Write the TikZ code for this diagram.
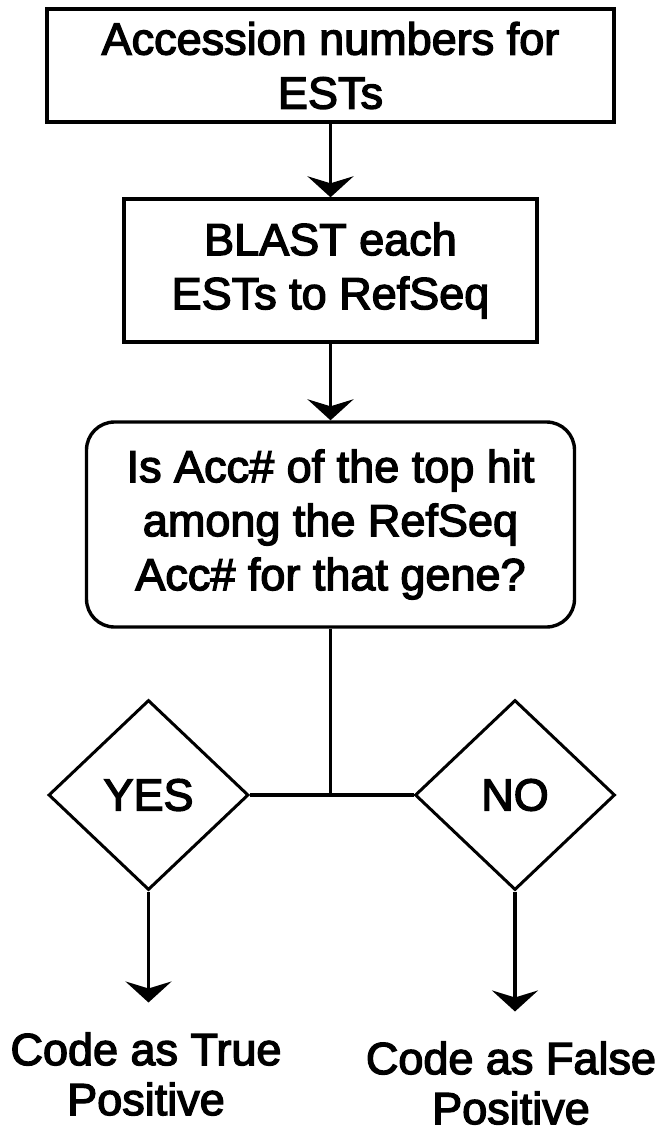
\documentclass[tikz,border=0pt]{standalone}
\usepackage{fontspec}
\newfontfamily\diafont[FakeBold=3]{Liberation Sans}
\usetikzlibrary{shapes.geometric,arrows.meta}
\begin{document}
\begin{tikzpicture}[x=1pt,y=-1pt,
  every node/.style={font=\diafont\fontsize{45}{54}\selectfont, align=center, inner sep=0pt},
  boxnode/.style={draw, line width=3.4pt, rectangle},
  qnode/.style={draw, line width=3.4pt, rounded corners=28pt, rectangle},
  dnode/.style={draw, line width=3pt, diamond, minimum width=200pt, minimum height=190pt},
  conn/.style={line width=3.4pt},
  arr/.style={line width=3.4pt, -{Stealth[length=21pt,width=46pt,inset=7pt]}},
  lbl/.style={font=\diafont\fontsize{45}{50}\selectfont, outer ysep=30pt}
]
\useasboundingbox (0,0) rectangle (658,1135);
\node[boxnode, minimum width=567pt, minimum height=113pt] (b1) at (330.5,65.5) {Accession numbers for\\ESTs};
\node[boxnode, minimum width=413pt, minimum height=143pt] (b2) at (330.5,270.5) {BLAST each\\ESTs to RefSeq};
\node[qnode, minimum width=488pt, minimum height=205pt] (q) at (330.5,524.5) {Is Acc\# of the top hit\\among the RefSeq\\Acc\# for that gene?};
\node[dnode] (yes) at (148.5,795) {YES};
\node[dnode] (no) at (515,795) {NO};
\node[lbl] (tp) at (146,1074) {Code as True\\Positive};
\node[lbl] (fp) at (511,1083) {Code as False\\Positive};
\coordinate (j) at (q.south |- yes.east);
\draw[arr] (b1.south) -- (b2.north);
\draw[arr] (b2.south) -- (q.north);
\draw[conn] (q.south) -- (j);
\draw[conn] (yes.east) -- (no.west);
\draw[arr] (yes.south) -- (yes.south |- tp.north);
\draw[arr] (no.south) -- (no.south |- fp.north);
\end{tikzpicture}
\end{document}
